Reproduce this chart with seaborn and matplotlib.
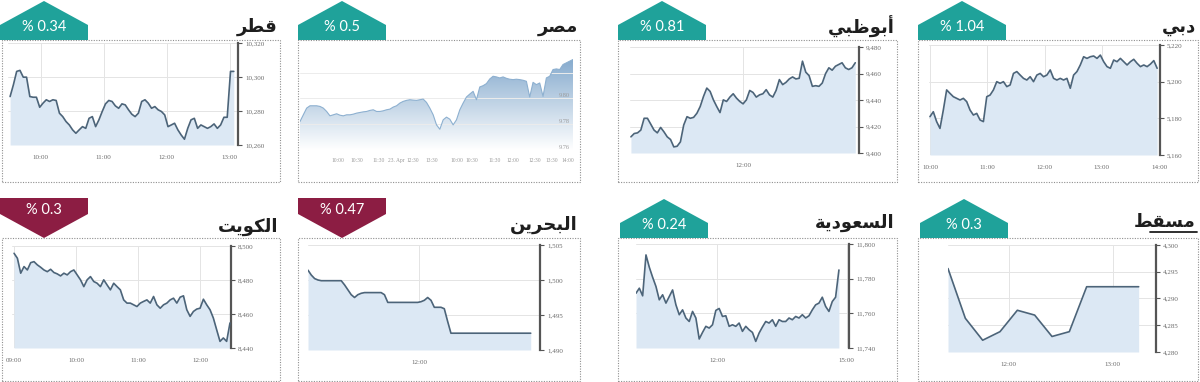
import numpy as np
import matplotlib
matplotlib.use("Agg")
import matplotlib.pyplot as plt
import seaborn as sns
from matplotlib.patches import Polygon, Rectangle
from matplotlib.lines import Line2D
from matplotlib.colors import LinearSegmentedColormap

# ---------------- data ----------------
names = ["قطر", "مصر", "أبوظبي", "دبي", "الكويت", "البحرين", "السعودية", "مسقط"]
changes = ["0.34", "0.5", "0.81", "1.04", "0.3", "0.47", "0.24", "0.3"]
directions = ["up", "up", "up", "up", "down", "down", "up", "up"]

qatar_values = [
    10288.5, 10295.4, 10303.3, 10303.9, 10299.9, 10299.9, 10288.5, 10288.1, 10288.1, 10282.2,
    10284.6, 10286.6, 10285.6, 10286.6, 10286.2, 10278.7, 10276.7, 10273.8, 10271.8, 10268.9,
    10266.9, 10268.9, 10270.8, 10269.8, 10275.7, 10276.7, 10270.8, 10274.8, 10279.7, 10284.2,
    10286.2, 10285.6, 10283.0, 10281.6, 10284.2, 10283.6, 10280.7, 10278.1, 10276.7, 10278.7,
    10285.6, 10286.6, 10284.6, 10281.6, 10282.6, 10280.7, 10279.7, 10277.7, 10270.8, 10271.8,
    10272.8, 10268.9, 10265.9, 10263.4, 10269.8, 10274.8, 10275.7, 10269.8, 10271.8, 10270.8,
    10269.8, 10270.8, 10272.4, 10269.8, 10271.8, 10276.3, 10276.3, 10303.3, 10303.3]
qatar_span = ("09:31", "13:04")
qatar_yticks = [10260, 10280, 10300, 10320]
qatar_xticks = ["10:00", "11:00", "12:00", "13:00"]

egypt_values = [
    9.7821, 9.7873, 9.7925, 9.7943, 9.7943, 9.7943, 9.7938, 9.7925, 9.7899, 9.7865,
    9.7873, 9.7881, 9.7870, 9.7865, 9.7873, 9.7873, 9.7878, 9.7886, 9.7891, 9.7896,
    9.7899, 9.7907, 9.7912, 9.7899, 9.7899, 9.7904, 9.7912, 9.7917, 9.7933, 9.7943,
    9.7964, 9.7977, 9.7985, 9.7990, 9.7987, 9.7985, 9.7990, 9.7995, 9.7969, 9.7925,
    9.7873, 9.7795, 9.7761, 9.7834, 9.7855, 9.7839, 9.7795, 9.7834, 9.7912, 9.7964,
    9.8011, 9.8034, 9.8055, 9.7990, 9.8089, 9.8099, 9.8115, 9.8151, 9.8172, 9.8167,
    9.8159, 9.8167, 9.8156, 9.8149, 9.8146, 9.8149, 9.8146, 9.8141, 9.8133, 9.8011,
    9.8125, 9.8107, 9.8120, 9.8016, 9.8159, 9.8172, 9.8224, 9.8229, 9.8224, 9.8263,
    9.8276, 9.8289, 9.8302]
egypt_yticks = [9.76, 9.78, 9.80, 9.82]
egypt_ylabels = ["9.76", "9.78", "9.80", ""]
egypt_xtick_pos = [11.5, 17, 23.5, 29, 34, 39.5, 47, 51.5, 58.5, 64, 70.5, 75.5, 80.5]
egypt_xticks = ["10:00", "10:30", "11:30", "23. Apr", "12:30", "13:30",
                "10:00", "10:30", "11:30", "12:00", "12:30", "13:30", "14:00"]

abudhabi_values = [
    9412.2, 9414.7, 9415.2, 9417.3, 9426.2, 9426.2, 9421.8, 9417.3, 9415.2, 9419.3,
    9416.0, 9412.2, 9410.2, 9404.6, 9405.1, 9408.4, 9421.1, 9427.4, 9426.2, 9426.9,
    9430.0, 9435.1, 9442.7, 9449.0, 9446.5, 9440.1, 9435.1, 9430.5, 9440.1, 9438.9,
    9442.2, 9444.7, 9441.4, 9438.9, 9437.1, 9440.1, 9447.2, 9445.7, 9442.2, 9443.9,
    9444.7, 9447.8, 9443.9, 9442.2, 9447.2, 9455.4, 9451.6, 9453.3, 9455.9, 9457.4,
    9455.9, 9456.4, 9469.3, 9461.0, 9458.4, 9450.3, 9450.8, 9450.3, 9452.8, 9459.9,
    9464.3, 9462.5, 9465.5, 9466.8, 9468.1, 9464.3, 9463.0, 9464.3, 9468.1]
abudhabi_span = ("10:00", "14:00")
abudhabi_yticks = [9400, 9420, 9440, 9460, 9480]
abudhabi_xticks = ["12:00"]

dubai_values = [
    5180.9, 5183.6, 5178.2, 5174.5, 5184.5, 5195.5, 5193.6, 5191.8, 5190.9, 5190.0,
    5190.9, 5189.1, 5184.5, 5181.8, 5182.7, 5179.1, 5178.2, 5191.8, 5192.7, 5195.5,
    5200.0, 5199.1, 5200.0, 5197.3, 5198.2, 5204.5, 5205.5, 5203.6, 5201.8, 5200.9,
    5202.7, 5200.0, 5203.6, 5204.5, 5202.7, 5203.6, 5206.4, 5201.8, 5200.9, 5201.8,
    5200.9, 5201.8, 5196.4, 5203.6, 5205.5, 5209.1, 5213.6, 5212.7, 5213.6, 5214.0,
    5212.7, 5214.5, 5210.9, 5208.2, 5207.3, 5211.8, 5210.9, 5212.7, 5210.9, 5209.1,
    5210.9, 5212.2, 5210.0, 5208.2, 5209.1, 5208.2, 5209.6, 5211.5, 5207.3]
dubai_span = ("10:00", "13:58")
dubai_yticks = [5160, 5180, 5200, 5220]
dubai_xticks = ["10:00", "11:00", "12:00", "13:00", "14:00"]

kuwait_values = [
    8495.7, 8492.8, 8484.0, 8487.9, 8485.9, 8490.2, 8490.8, 8488.9, 8487.5, 8485.9,
    8484.9, 8486.3, 8484.4, 8483.6, 8482.4, 8484.0, 8483.0, 8484.9, 8485.9, 8483.0,
    8480.1, 8476.1, 8480.1, 8482.0, 8479.1, 8478.1, 8476.1, 8480.1, 8477.1, 8474.2,
    8478.1, 8476.1, 8474.2, 8468.3, 8466.4, 8466.4, 8465.4, 8464.4, 8466.4, 8467.4,
    8468.3, 8466.4, 8470.3, 8465.4, 8463.4, 8465.4, 8466.4, 8468.3, 8469.3, 8466.4,
    8469.9, 8470.7, 8462.5, 8458.6, 8461.5, 8462.9, 8463.4, 8468.7, 8465.4, 8462.5,
    8457.6, 8450.7, 8443.9, 8445.9, 8443.9, 8454.7]
kuwait_span = ("09:00", "12:29")
kuwait_yticks = [8440, 8460, 8480, 8500]
kuwait_xticks = ["09:00", "10:00", "11:00", "12:00"]

bahrain_values = [
    1501.4, 1500.7, 1500.2, 1500.0, 1499.9, 1499.9, 1499.9, 1499.9, 1499.9, 1499.9,
    1499.9, 1499.3, 1498.6, 1497.9, 1497.5, 1497.9, 1498.1, 1498.2, 1498.2, 1498.2,
    1498.2, 1498.2, 1498.2, 1497.9, 1496.8, 1496.8, 1496.8, 1496.8, 1496.8, 1496.8,
    1496.8, 1496.8, 1496.8, 1496.8, 1496.9, 1497.1, 1497.5, 1497.1, 1496.1, 1496.1,
    1496.1, 1495.9, 1494.1, 1492.4, 1492.4, 1492.4, 1492.4, 1492.4, 1492.4, 1492.4,
    1492.4, 1492.4, 1492.4, 1492.4, 1492.4, 1492.4, 1492.4, 1492.4, 1492.4, 1492.4,
    1492.4, 1492.4, 1492.4, 1492.4, 1492.4, 1492.4, 1492.4, 1492.4]
bahrain_span = ("10:00", "14:00")
bahrain_yticks = [1490, 1495, 1500, 1505]
bahrain_xticks = ["12:00"]

saudi_values = [
    11771.6, 11774.5, 11770.1, 11793.7, 11786.6, 11780.8, 11775.5, 11767.8, 11770.7, 11765.9,
    11769.7, 11773.5, 11764.9, 11759.2, 11762.0, 11757.3, 11755.3, 11761.1, 11757.3, 11745.2,
    11749.0, 11752.5, 11751.5, 11753.4, 11761.7, 11762.8, 11758.2, 11758.6, 11752.5, 11753.4,
    11752.5, 11754.4, 11749.6, 11752.5, 11750.5, 11749.0, 11743.8, 11748.6, 11752.1, 11755.3,
    11754.4, 11756.3, 11752.5, 11756.3, 11755.3, 11755.3, 11757.3, 11756.3, 11758.2, 11757.3,
    11759.2, 11757.3, 11758.6, 11762.0, 11764.9, 11765.9, 11769.3, 11764.0, 11761.1, 11766.8,
    11769.3, 11785.0]
saudi_span = ("10:07", "14:49")
saudi_yticks = [11740, 11760, 11780, 11800]
saudi_xticks = ["12:00", "15:00"]

muscat_values = [4295.6, 4286.3, 4282.2, 4283.8, 4287.8, 4286.9,
                 4282.9, 4283.8, 4292.2, 4292.2, 4292.2, 4292.2]
muscat_span = ("11:25", "13:15")
muscat_yticks = [4280, 4285, 4290, 4295, 4300]
muscat_xticks = ["12:00", "13:00"]

# ---------------- helpers ----------------
AR_FORMS = {  # isolated, final, initial, medial
    "ا": ("\uFE8D", "\uFE8E", None, None),
    "أ": ("\uFE83", "\uFE84", None, None),
    "ب": ("\uFE8F", "\uFE90", "\uFE91", "\uFE92"),
    "ة": ("\uFE93", "\uFE94", None, None),
    "ت": ("\uFE95", "\uFE96", "\uFE97", "\uFE98"),
    "ح": ("\uFEA1", "\uFEA2", "\uFEA3", "\uFEA4"),
    "د": ("\uFEA9", "\uFEAA", None, None),
    "ر": ("\uFEAD", "\uFEAE", None, None),
    "س": ("\uFEB1", "\uFEB2", "\uFEB3", "\uFEB4"),
    "ص": ("\uFEB9", "\uFEBA", "\uFEBB", "\uFEBC"),
    "ط": ("\uFEC1", "\uFEC2", "\uFEC3", "\uFEC4"),
    "ظ": ("\uFEC5", "\uFEC6", "\uFEC7", "\uFEC8"),
    "ع": ("\uFEC9", "\uFECA", "\uFECB", "\uFECC"),
    "ق": ("\uFED5", "\uFED6", "\uFED7", "\uFED8"),
    "ك": ("\uFED9", "\uFEDA", "\uFEDB", "\uFEDC"),
    "ل": ("\uFEDD", "\uFEDE", "\uFEDF", "\uFEE0"),
    "م": ("\uFEE1", "\uFEE2", "\uFEE3", "\uFEE4"),
    "ن": ("\uFEE5", "\uFEE6", "\uFEE7", "\uFEE8"),
    "و": ("\uFEED", "\uFEEE", None, None),
    "ي": ("\uFEF1", "\uFEF2", "\uFEF3", "\uFEF4"),
}


def shape_ar(word):
    # matplotlib has no Arabic shaping: pick joined forms, then lay out right-to-left
    out = []
    for i, ch in enumerate(word):
        iso, fin, ini, med = AR_FORMS[ch]
        prev_joins = i > 0 and AR_FORMS[word[i - 1]][2] is not None
        next_joins = i < len(word) - 1 and ini is not None
        if prev_joins and next_joins:
            out.append(med)
        elif prev_joins:
            out.append(fin)
        elif next_joins:
            out.append(ini)
        else:
            out.append(iso)
    return "".join(reversed(out))


def hours(s):
    h, m = s.split(":")
    return int(h) + int(m) / 60


W, H = 1200, 382
LINE = "#4c6479"
FILL = "#dce8f4"
GRID = "#e4e4e4"
TEAL = "#1fa29a"
MAROON = "#8c1d43"

sns.set_theme(style="white")
plt.rcParams["font.family"] = ["Lato", "DejaVu Sans"]

fig = plt.figure(figsize=(12, 3.82), dpi=100)
fig.patch.set_facecolor("white")


def add_ax(rect):
    l, t, r, b = rect
    return fig.add_axes([l / W, 1 - b / H, (r - l) / W, (b - t) / H])


def frame_and_badge(box, name, change, direction, badge_x0, title_y, underline=False):
    l, t, r, b = box
    fig.add_artist(Rectangle((l / W, 1 - b / H), (r - l) / W, (b - t) / H,
                             transform=fig.transFigure, fill=False,
                             ls=(0, (1, 1.3)), lw=0.8, ec="#8f8f8f"))
    x0, x1 = badge_x0, badge_x0 + 88
    xc = (x0 + x1) / 2
    if direction == "up":
        pts = [(x0, t), (x0, t - 15), (xc, t - 39), (x1, t - 15), (x1, t)]
        ty, col = t - 13, TEAL
    else:
        pts = [(x0, t - 40), (x1, t - 40), (x1, t - 24), (xc, t), (x0, t - 24)]
        ty, col = t - 28, MAROON
    fig.add_artist(Polygon([(px / W, 1 - py / H) for px, py in pts], closed=True,
                           transform=fig.transFigure, fc=col, ec="none"))
    fig.text(xc / W, 1 - ty / H, f"% {change}", ha="center", va="center",
             color="white", fontsize=10.5, family=["Lato", "DejaVu Sans"])
    fig.text((r - 2) / W, 1 - title_y / H, shape_ar(name), ha="right", va="center",
             fontsize=13, fontweight="bold", family="DejaVu Sans", color="#1e1e1e")
    if underline:
        fig.add_artist(Line2D([(r - 48) / W, (r - 1) / W], [1 - (title_y + 10) / H] * 2,
                              transform=fig.transFigure, color="#1e1e1e", lw=1.3))


def style_ticks(ax, labelcolor="#6a6a6a"):
    for lbl in ax.get_xticklabels() + ax.get_yticklabels():
        lbl.set_fontfamily("Liberation Serif")
        lbl.set_color(labelcolor)


def draw_panel(rect, values, span, yticks, xticks, xlim):
    ax = add_ax(rect)
    t = np.linspace(hours(span[0]), hours(span[1]), len(values))
    ax.fill_between(t, values, yticks[0], color=FILL, lw=0, zorder=1)
    sns.lineplot(x=t, y=values, ax=ax, color=LINE, lw=1.2, zorder=3)
    ax.set_xlim(hours(xlim[0]), hours(xlim[1]))
    ax.set_ylim(yticks[0], yticks[-1])
    ax.yaxis.tick_right()
    ax.set_yticks(yticks, [f"{v:,}" for v in yticks])
    ax.set_xticks([hours(s) for s in xticks], xticks)
    for s in ["left", "top", "bottom"]:
        ax.spines[s].set_visible(False)
    ax.spines["right"].set(color="#555555", lw=1.6)
    ax.tick_params(axis="y", direction="out", length=3, width=0.8, color="#555555",
                   labelsize=5, pad=2, right=True)
    ax.tick_params(axis="x", length=0, labelsize=5, pad=7)
    ax.grid(True, color=GRID, lw=0.7)
    ax.set_axisbelow(True)
    ax.set_xlabel("")
    ax.set_ylabel("")
    ax.set_facecolor("white")
    style_ticks(ax)
    return ax


def draw_egypt(rect):
    ax = add_ax(rect)
    x = np.arange(len(egypt_values))
    y = np.array(egypt_values)
    base = egypt_yticks[0]
    poly = ax.fill_between(x, y, base, color="none", lw=0)
    cmap = LinearSegmentedColormap.from_list("eg", ["#ffffff", "#86abce"])
    grad = np.linspace(0, 1, 256).reshape(-1, 1)
    im = ax.imshow(grad, extent=[x[0], x[-1], base, y.max()], origin="lower",
                   cmap=cmap, aspect="auto", zorder=1)
    im.set_clip_path(poly.get_paths()[0], transform=ax.transData)
    sns.lineplot(x=x, y=y, ax=ax, color="#8db0d0", lw=0.8, zorder=3)
    ax.set_xlim(0, 82)
    ax.set_ylim(base, 9.843)
    ax.yaxis.tick_right()
    ax.set_yticks(egypt_yticks, egypt_ylabels)
    ax.set_xticks(egypt_xtick_pos, egypt_xticks)
    for s in ax.spines.values():
        s.set_visible(False)
    ax.tick_params(axis="y", length=0, labelsize=4.5, pad=-2)
    ax.tick_params(axis="x", length=0, labelsize=4, pad=6)
    for lbl in ax.get_yticklabels():
        lbl.set_ha("right")
        lbl.set_va("bottom")
    ax.grid(True, axis="y", color="#ececec", lw=0.7)
    ax.set_axisbelow("line")
    ax.set_xlabel("")
    ax.set_ylabel("")
    style_ticks(ax, "#9a9a9a")
    return ax


# ---------------- layout (pixels) ----------------
boxes = [(2, 40, 280, 182), (298, 40, 580, 182), (618, 40, 897, 182), (918, 40, 1198, 182),
         (2, 238, 280, 381), (298, 238, 580, 381), (618, 238, 897, 381), (918, 238, 1198, 381)]
badge_x = [0, 298, 618, 918, 0, 298, 620, 920]
title_y = [27, 27, 27, 27, 227, 225, 223, 222]

for i in range(8):
    frame_and_badge(boxes[i], names[i], changes[i], directions[i], badge_x[i], title_y[i],
                    underline=(i == 7))

draw_panel((8, 43, 238, 145), qatar_values, qatar_span, qatar_yticks, qatar_xticks,
           ("09:29", "13:08"))
draw_egypt((300, 43, 573, 150))
draw_panel((630, 47, 859, 153), abudhabi_values, abudhabi_span, abudhabi_yticks,
           abudhabi_xticks, ("09:59", "14:04"))
draw_panel((929, 45, 1160, 155), dubai_values, dubai_span, dubai_yticks, dubai_xticks,
           ("09:59", "14:01"))
draw_panel((12, 246, 231, 348), kuwait_values, kuwait_span, kuwait_yticks, kuwait_xticks,
           ("08:58", "12:30"))
draw_panel((308, 245, 540, 350), bahrain_values, bahrain_span, bahrain_yticks,
           bahrain_xticks, ("10:00", "14:10"))
draw_panel((636, 244, 849, 348), saudi_values, saudi_span, saudi_yticks, saudi_xticks,
           ("10:07", "15:03"))
draw_panel((948, 245, 1156, 352), muscat_values, muscat_span, muscat_yticks, muscat_xticks,
           ("11:25", "13:25"))

fig.savefig("out.png", dpi=100, facecolor="white")
plt.close(fig)
